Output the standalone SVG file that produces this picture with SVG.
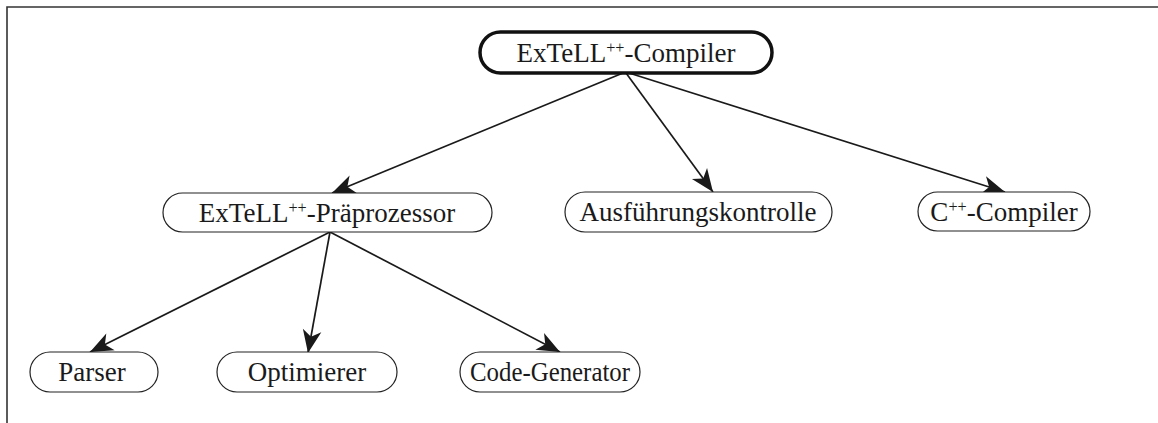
<svg xmlns="http://www.w3.org/2000/svg" width="1158" height="423" viewBox="0 0 1158 423">
<defs>
<style>
.n{fill:#fff;stroke:#222;stroke-width:1.2}
.top{fill:#fff;stroke:#111;stroke-width:3.5}
.t{font-family:"Liberation Serif","Times New Roman",serif;font-size:27px;fill:#1a1a1a;text-anchor:middle}
.s{font-size:60%;baseline-shift:super}
.e{stroke:#1a1a1a;stroke-width:1.7;fill:none;marker-end:url(#ah)}
</style>
<marker id="ah" markerUnits="userSpaceOnUse" markerWidth="26" markerHeight="22" viewBox="-23 -10 25 20" refX="0" refY="0" orient="auto">
<path d="M0,0 L-22,-9 L-16,0 L-22,9 Z" fill="#1a1a1a"/>
</marker>
</defs>
<rect width="1158" height="423" fill="#fff"/>
<path d="M7,423 L7,7 L1158,7" fill="none" stroke="#333" stroke-width="1.6"/>
<g id="connectors">
<line class="e" x1="623" y1="73" x2="332" y2="193"/>
<line class="e" x1="626" y1="73" x2="713" y2="192"/>
<line class="e" x1="629" y1="73" x2="1005" y2="192"/>
<line class="e" x1="330" y1="232" x2="90" y2="352"/>
<line class="e" x1="330" y1="232" x2="308" y2="353"/>
<line class="e" x1="330" y1="232" x2="560" y2="352"/>
</g>
<g id="n-compiler">
<rect class="top" x="480" y="32" width="292" height="41" rx="20.5"/>
<text class="t" x="626" y="62">ExTeLL<tspan class="s">++</tspan>-Compiler</text>
</g>
<g id="n-praeprozessor">
<rect class="n" x="163" y="193" width="329" height="39" rx="19.5"/>
<text class="t" x="327" y="222">ExTeLL<tspan class="s">++</tspan>-Präprozessor</text>
</g>
<g id="n-ausfuehrung">
<rect class="n" x="565" y="192" width="267" height="40" rx="20"/>
<text class="t" x="698" y="221">Ausführungskontrolle</text>
</g>
<g id="n-cpp">
<rect class="n" x="918" y="192" width="172" height="39" rx="19.5"/>
<text class="t" x="1004" y="221">C<tspan class="s">++</tspan>-Compiler</text>
</g>
<g id="n-parser">
<rect class="n" x="30" y="352" width="128" height="40" rx="20"/>
<text class="t" x="92" y="381">Parser</text>
</g>
<g id="n-optimierer">
<rect class="n" x="217" y="352" width="180" height="40" rx="20"/>
<text class="t" x="307" y="381">Optimierer</text>
</g>
<g id="n-codegen">
<rect class="n" x="460" y="352" width="180" height="40" rx="20"/>
<text class="t" x="550" y="381" textLength="160" lengthAdjust="spacingAndGlyphs">Code-Generator</text>
</g>
</svg>
